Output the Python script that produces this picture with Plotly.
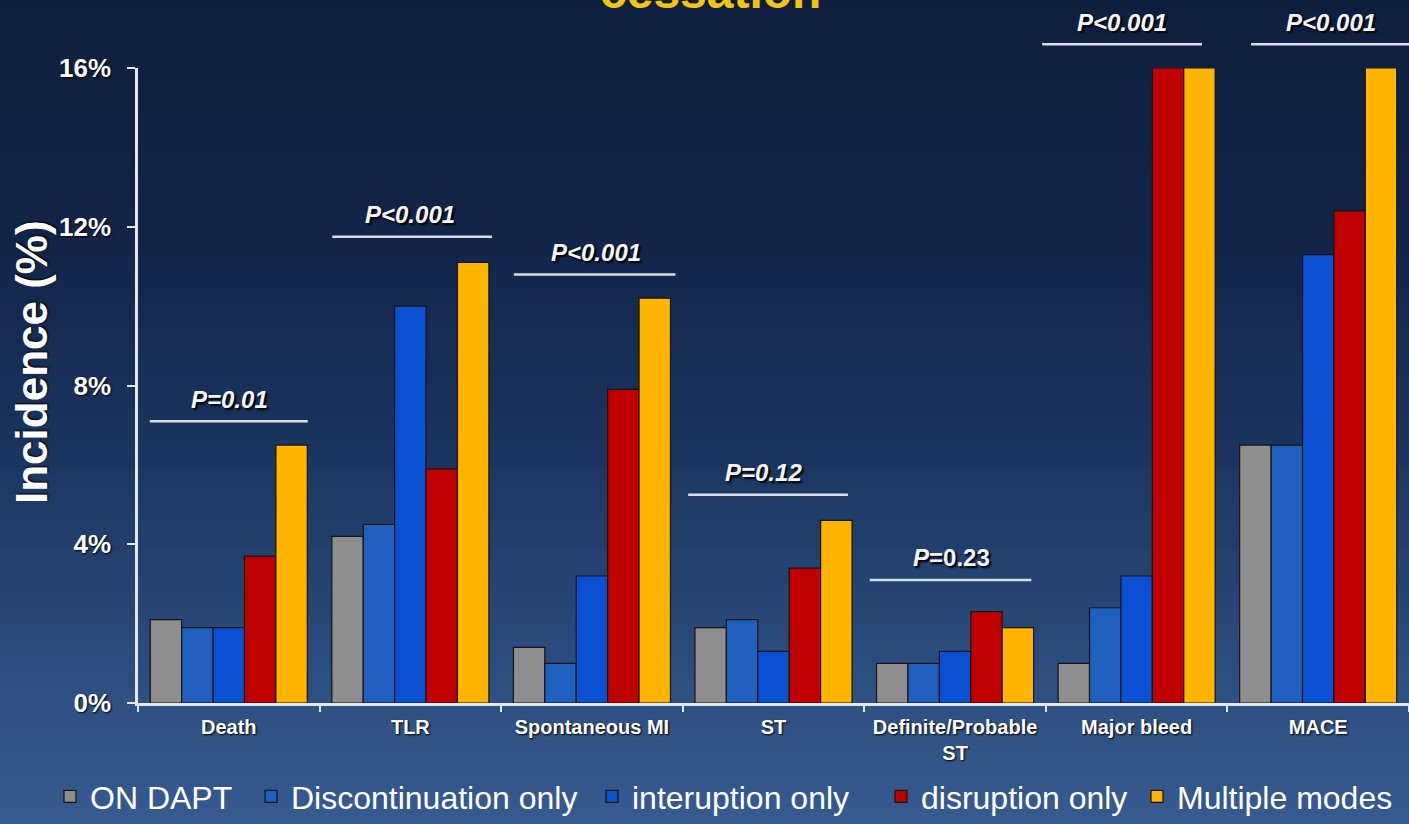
import plotly.graph_objects as go

# ---------------- data ----------------
categories = ["Death", "TLR", "Spontaneous MI", "ST", "Definite/Probable<br>ST", "Major bleed", "MACE"]
series_names = ["ON DAPT", "Discontinuation only", "interuption only", "disruption only", "Multiple modes"]
on_dapt = [2.1, 4.2, 1.4, 1.9, 1.0, 1.0, 6.5]
discontinuation_only = [1.9, 4.5, 1.0, 2.1, 1.0, 2.4, 6.5]
interruption_only = [1.9, 10.0, 3.2, 1.3, 1.3, 3.2, 11.3]
disruption_only = [3.7, 5.9, 7.9, 3.4, 2.3, 16.0, 12.4]
multiple_modes = [6.5, 11.1, 10.2, 4.6, 1.9, 16.0, 16.0]
p_labels = ["<i>P=0.01</i>", "<i>P&lt;0.001</i>", "<i>P&lt;0.001</i>", "<i>P=0.12</i>",
            "<i>P</i>=0.23", "<i>P&lt;0.001</i>", "<i>P&lt;0.001</i>"]
y_ticks = [0, 4, 8, 12, 16]
y_tick_labels = ["0%", "4%", "8%", "12%", "16%"]

# ---------------- styling / placement ----------------
colors = ["#8e8e8e", "#1f5fbd", "#0b4fd3", "#c00000", "#ffb400"]
legend_px = [50, 251, 592, 881, 1137]      # left edge of each legend entry (px)
p_line_level = [7.1, 11.75, 10.8, 5.25, 3.1, 16.6, 16.6]
p_line_left = [-0.435, -0.43, -0.43, -0.47, -0.47, -0.52, -0.37]
p_line_right = [0.435, 0.45, 0.46, 0.41, 0.42, 0.36, 0.52]
p_text_dx = [0.005, 0.0, 0.02, -0.055, -0.02, -0.08, 0.07]
Y_MAX = 16.0

series = [on_dapt, discontinuation_only, interruption_only, disruption_only, multiple_modes]

W, H = 1409, 824
ml, mr, mt, mb = 138, 0, 68, 121
pw = W - ml - mr
ph = H - mt - mb

fig = go.Figure()
legend_ids = ["legend", "legend2", "legend3", "legend4", "legend5"]
for name, vals, col, lid in zip(series_names, series, colors, legend_ids):
    fig.add_trace(go.Bar(
        x=categories, y=vals, name=name, legend=lid,
        marker=dict(color=col, line=dict(color="#151515", width=1.2)),
    ))

# background gradient (paper coordinates, extended into margins)
stops = [(0, (14, 31, 62)), (230, (18, 36, 72)), (450, (27, 52, 94)), (650, (42, 75, 124)), (824, (55, 91, 144))]

def col_at(y):
    for (y0, c0), (y1, c1) in zip(stops[:-1], stops[1:]):
        if y0 <= y <= y1:
            t = (y - y0) / (y1 - y0)
            return "rgb(%d,%d,%d)" % tuple(round(a + (b - a) * t) for a, b in zip(c0, c1))
    return "rgb(%d,%d,%d)" % stops[-1][1]

n_bands = 90
shapes = []
for k in range(n_bands):
    ya = H * k / n_bands
    yb = H * (k + 1) / n_bands + 1
    shapes.append(dict(type="rect", xref="paper", yref="paper",
                       x0=-ml / pw - 0.01, x1=1.01,
                       y0=(H - mb - yb) / ph, y1=(H - mb - ya) / ph,
                       fillcolor=col_at((ya + yb) / 2), line=dict(width=0), layer="below"))

# P-value brackets
annotations = []
for i, cat in enumerate(categories):
    lvl = p_line_level[i] / Y_MAX
    shapes.append(dict(type="line", xref="x", yref="y domain",
                       x0=i + p_line_left[i], x1=i + p_line_right[i], y0=lvl, y1=lvl,
                       line=dict(color="#d8dde6", width=2.5), layer="above"))
    annotations.append(dict(xref="x", yref="y domain", x=i + p_text_dx[i], y=lvl,
                            yanchor="middle", yshift=22, text="<b>" + p_labels[i] + "</b>",
                            showarrow=False,
                            font=dict(family="Arial", size=24, color="#f4f6fa",
                                      shadow="2px 2px 2px #000000")))

# y axis title
annotations.append(dict(xref="paper", yref="paper", x=(31 - ml) / pw, y=(H - mb - 362) / ph,
                        text="<b>Incidence (%)</b>", textangle=-90, showarrow=False,
                        xanchor="center", yanchor="middle",
                        font=dict(family="Arial", size=44, color="#ffffff",
                                  shadow="1px 1px 2px #000000")))
# cut-off title at the very top (only its lower part is visible in the source)
annotations.append(dict(xref="paper", yref="paper", x=(710 - ml) / pw, y=(H - mb + 8) / ph,
                        text="<b>cessation</b>", showarrow=False,
                        xanchor="center", yanchor="middle",
                        font=dict(family="Arial", size=48, color="#f2c416")))

legend_common = dict(orientation="h", xanchor="left", y=(H - mb - 797) / ph, yanchor="middle",
                     font=dict(family="Arial", size=32, color="#ffffff"),
                     bgcolor="rgba(0,0,0,0)", itemclick=False)
legends = {}
for lid, px in zip(legend_ids, legend_px):
    legends[lid] = dict(legend_common, x=(px - ml) / pw)

fig.update_layout(
    width=W, height=H,
    margin=dict(l=ml, r=mr, t=mt, b=mb, pad=0),
    paper_bgcolor="#0e1f3e",
    plot_bgcolor="rgba(0,0,0,0)",
    barmode="group", bargap=0.135, bargroupgap=0,
    shapes=shapes, annotations=annotations,
    showlegend=True,
    xaxis=dict(type="category", range=[-0.5, 6.5], showgrid=False, zeroline=False,
               showline=True, linecolor="#e3e7ee", linewidth=2.5,
               ticks="outside", tickson="boundaries", ticklen=6, tickcolor="#e3e7ee", tickwidth=2,
               ticklabelstandoff=4,
               tickfont=dict(family="Arial", size=20, color="#ffffff", weight="bold",
                             shadow="1px 1px 2px #000000")),
    yaxis=dict(range=[0, Y_MAX], tickvals=y_ticks, ticktext=y_tick_labels,
               showgrid=False, zeroline=False, showline=True, linecolor="#e3e7ee", linewidth=2.5,
               ticks="outside", ticklen=8, tickcolor="#e3e7ee", tickwidth=2,
               ticklabelstandoff=11,
               tickfont=dict(family="Arial", size=26, color="#ffffff", weight="bold",
                             shadow="1px 1px 2px #000000")),
    font=dict(family="Arial"),
    **legends,
)

fig.write_html("out.html")
